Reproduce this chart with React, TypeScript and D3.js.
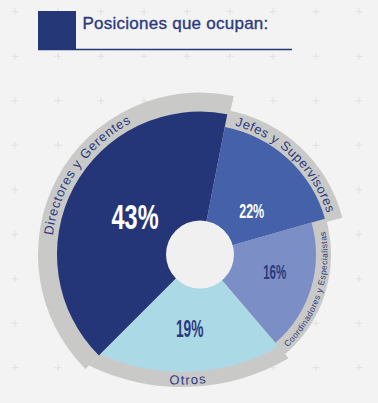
import React from "react";
import * as d3 from "d3";

// ---- data ----
const title = "Posiciones que ocupan:";
const categories = [
  "Directores y Gerentes",
  "Jefes y Supervisores",
  "Coordinadores y Especialistas",
  "Otros",
];
const percentages = [43, 22, 16, 19];
// angular extent of each slice as drawn in the picture (degrees)
const angleShares = [146, 63, 65.5, 85.5];

// ---- layout / style ----
const W = 378;
const H = 403;
const CX = 200;
const CY = 254.5;
const HOLE_R = 34;
const START_DEG = -135;
const OTROS_CENTER: [number, number] = [-18, -79.5]; // relative to hub
const sliceOuter = [143, 130, 116, 197];
const bandOuter = [162, 147, 131, 212];
const bandPad: [number, number][] = [
  [0, 1],
  [-0.5, 1.5],
  [-1, 2.5],
  [0, 0],
];
const colors = ["#243677", "#4461a9", "#7b8fc6", "#acd9e6"];
const BAND = "#c9c9c8";
const NAVY = "#253777";
const TEXT_NAVY = "#2b3a7e";
const labelFont = [35, 20, 20, 24];
const labelWidth = [47, 25, 23, 27.5];
const labelFill = ["#ffffff", "#ffffff", TEXT_NAVY, TEXT_NAVY];
const labelAngle = [-59.8, 49.7, 103.2, 188];
const labelRadius = [75.2, 67.8, 76.7, 74.2];
const arcText = [
  { r: 148.5, mid: -55, cw: true, size: 13, ls: 0.8, span: 70 },
  { r: 133.5, mid: 43.7, cw: true, size: 13, ls: 0.6, span: 60 },
  { r: 127.5, mid: 108, cw: false, size: 8.5, ls: 0.45, span: 60 },
  { r: 209.5, mid: 178.3, cw: false, size: 13, ls: 1.2, span: 20 },
];

const rad = (d: number) => (d * Math.PI) / 180;
const pt = (cx: number, cy: number, r: number, aDeg: number) => {
  const a = rad(aDeg);
  return [cx + r * Math.sin(a), cy - r * Math.cos(a)];
};
const arcPath = (cx: number, cy: number, r: number, mid: number, span: number, cw: boolean) => {
  const a0 = cw ? mid - span : mid + span;
  const a1 = cw ? mid + span : mid - span;
  const p0 = pt(cx, cy, r, a0);
  const p1 = pt(cx, cy, r, a1);
  return `M${p0[0]},${p0[1]} A${r},${r} 0 0 ${cw ? 1 : 0} ${p1[0]},${p1[1]}`;
};

// intersection of ray from hub (origin) at clock-angle a with circle (O, R)
const rayCircle = (aRad: number, O: [number, number], R: number) => {
  const u = [Math.sin(aRad), -Math.cos(aRad)];
  const d = [-O[0], -O[1]];
  const b = d[0] * u[0] + d[1] * u[1];
  const c = d[0] * d[0] + d[1] * d[1] - R * R;
  const t = -b + Math.sqrt(b * b - c);
  return [t * u[0], t * u[1]];
};
const offsetSector = (a0: number, a1: number, O: [number, number], R: number) => {
  const p = d3.path();
  const P1 = rayCircle(a0, O, R);
  const P2 = rayCircle(a1, O, R);
  const t1 = Math.atan2(P1[1] - O[1], P1[0] - O[0]);
  const t2 = Math.atan2(P2[1] - O[1], P2[0] - O[0]);
  p.moveTo(0, 0);
  p.lineTo(P1[0], P1[1]);
  p.arc(O[0], O[1], R, t1, t2, false);
  p.closePath();
  return p.toString();
};

export default function App() {
  const pie = d3
    .pie<number>()
    .sort(null)
    .value((i) => angleShares[i])
    .startAngle(rad(START_DEG))
    .endAngle(rad(START_DEG + 360));
  const arcs = pie(d3.range(categories.length));
  const arcGen = d3.arc<any>();
  const last = categories.length - 1;

  const xs = d3.range(15, W + 5, 43);
  const ys = d3.range(11.7, H + 5, 44.5);

  return (
    <svg
      width={W}
      height={H}
      viewBox={`0 0 ${W} ${H}`}
      style={{ position: "absolute", left: 0, top: 0, display: "block" }}
    >
      <rect x={0} y={0} width={W} height={H} fill="#f3f3f3" />
      <g stroke="#e0e0e0" strokeWidth={1}>
        {ys.map((y) =>
          xs.map((x) => (
            <g key={`${x}-${y}`}>
              <line x1={x - 3.5} x2={x + 3.5} y1={y} y2={y} />
              <line x1={x} x2={x} y1={y - 3.5} y2={y + 3.5} />
            </g>
          ))
        )}
      </g>

      {/* header */}
      <rect x={38} y={11} width={38} height={39} fill={NAVY} />
      <line x1={38} x2={292} y1={49.5} y2={49.5} stroke={NAVY} strokeWidth={1.5} />
      <text
        x={82.5}
        y={28.5}
        fontFamily="Liberation Sans, Arial, sans-serif"
        fontSize={17}
        letterSpacing={0.25}
        fill={TEXT_NAVY}
        stroke={TEXT_NAVY}
        strokeWidth={0.35}
      >
        {title}
      </text>

      <g transform={`translate(${CX},${CY})`}>
        {/* gray bands */}
        {arcs.map((a, i) =>
          i === last ? (
            <path key={`b${i}`} d={offsetSector(a.startAngle, a.endAngle, OTROS_CENTER, bandOuter[i])} fill={BAND} />
          ) : (
            <path
              key={`b${i}`}
              d={arcGen({
                innerRadius: 0,
                outerRadius: bandOuter[i],
                startAngle: a.startAngle + rad(bandPad[i][0]),
                endAngle: a.endAngle + rad(bandPad[i][1]),
              }) as string}
              fill={BAND}
            />
          )
        )}
        {/* slices */}
        {arcs.map((a, i) =>
          i === last ? (
            <path key={`s${i}`} d={offsetSector(a.startAngle, a.endAngle, OTROS_CENTER, sliceOuter[i])} fill={colors[i]} />
          ) : (
            <path
              key={`s${i}`}
              d={arcGen({
                innerRadius: 0,
                outerRadius: sliceOuter[i],
                startAngle: a.startAngle,
                endAngle: a.endAngle,
              }) as string}
              fill={colors[i]}
            />
          )
        )}
        <circle r={HOLE_R} fill="#f0f0f0" />

        {/* curved category labels */}
        <defs>
          {arcText.map((t, i) => {
            const c = i === last ? OTROS_CENTER : [0, 0];
            return <path key={`tp${i}`} id={`tp${i}`} d={arcPath(c[0], c[1], t.r, t.mid, t.span, t.cw)} fill="none" />;
          })}
        </defs>
        {arcText.map((t, i) => (
          <text
            key={`t${i}`}
            fontFamily="Liberation Sans, Arial, sans-serif"
            fontSize={t.size}
            letterSpacing={t.ls}
            fill={TEXT_NAVY}
          >
            <textPath href={`#tp${i}`} startOffset="50%" textAnchor="middle">
              {categories[i]}
            </textPath>
          </text>
        ))}

        {/* percentages */}
        {arcs.map((a, i) => {
          const ang = rad(labelAngle[i]);
          const [x, y] = d3
            .arc<any>()
            .innerRadius(labelRadius[i])
            .outerRadius(labelRadius[i])
            .centroid({ startAngle: ang, endAngle: ang } as any);
          return (
            <text
              key={`p${i}`}
              x={x}
              y={y + labelFont[i] * 0.358}
              textAnchor="middle"
              fontFamily="Liberation Sans Narrow, Liberation Sans, Arial, sans-serif"
              fontWeight="bold"
              fontSize={labelFont[i]}
              textLength={labelWidth[i]}
              lengthAdjust="spacingAndGlyphs"
              fill={labelFill[i]}
            >
              {`${percentages[i]}%`}
            </text>
          );
        })}
      </g>
    </svg>
  );
}
